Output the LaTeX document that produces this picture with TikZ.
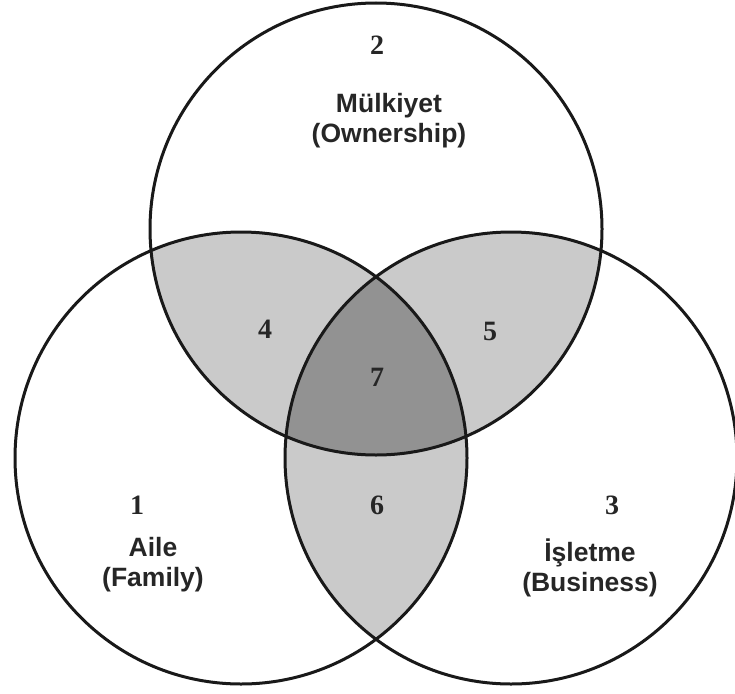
\documentclass[tikz,border=0pt]{standalone}
\usepackage{fontspec}
\setmainfont{Liberation Sans}
\newfontfamily\numfont{Liberation Serif}
\definecolor{lightshade}{RGB}{202,202,202}
\definecolor{darkshade}{RGB}{146,146,146}
\begin{document}
\begin{tikzpicture}[x=1pt,y=-1pt,
  ring/.style={line width=3pt,draw=black!90},
  setlabel/.style={font=\fontsize{26.5}{30}\selectfont\bfseries,align=center,text=black!85,inner sep=0pt},
  regionnum/.style={font=\numfont\fontsize{28}{28}\selectfont\bfseries,text=black!85,inner sep=0pt}]
  \useasboundingbox (0,0) rectangle (735,693);
  % circle centres and common radius
  \coordinate (cF) at (241,458);
  \coordinate (cO) at (376,229);
  \coordinate (cB) at (511,458);
  \def\rad{226}
  % pairwise overlaps
  \begin{scope}
    \clip (cO) circle (\rad);
    \fill[lightshade] (cF) circle (\rad);
    \fill[lightshade] (cB) circle (\rad);
  \end{scope}
  \begin{scope}
    \clip (cF) circle (\rad);
    \fill[lightshade] (cB) circle (\rad);
  \end{scope}
  % triple overlap
  \begin{scope}
    \clip (cO) circle (\rad);
    \clip (cF) circle (\rad);
    \fill[darkshade] (cB) circle (\rad);
  \end{scope}
  % outlines
  \draw[ring] (cO) circle (\rad);
  \draw[ring] (cF) circle (\rad);
  \draw[ring] (cB) circle (\rad);
  % region numbers
  \node[regionnum] (n2) at (377,45) {2};
  \node[regionnum] (n1) at (137,505) {1};
  \node[regionnum] (n3) at (612,505) {3};
  \node[regionnum] (n4) at (265,329) {4};
  \node[regionnum] (n5) at (490,331) {5};
  \node[regionnum] (n7) at (377,377) {7};
  \node[regionnum] (n6) at (377,505) {6};
  % set names
  \node[setlabel] (own) at (389,121) {Mülkiyet\\(Ownership)};
  \node[setlabel] (fam) at (153,565) {Aile\\(Family)};
  \node[setlabel] (bus) at (590,568) {İşletme\\(Business)};
\end{tikzpicture}
\end{document}
